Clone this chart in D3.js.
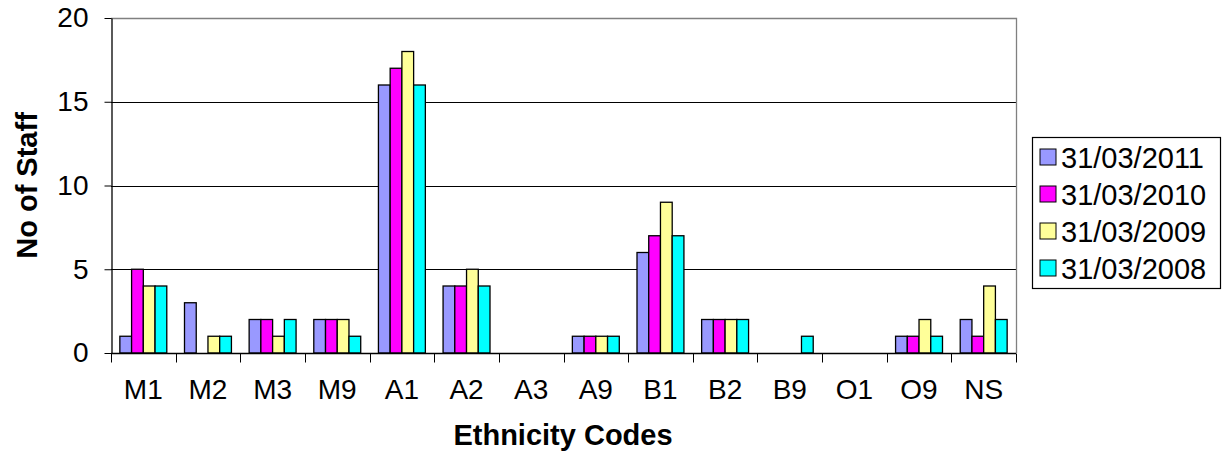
<!DOCTYPE html>
<html>
<head>
<meta charset="utf-8">
<script src="https://cdn.jsdelivr.net/npm/d3@7"></script>
<style>
  html, body { margin: 0; padding: 0; background: #fff; }
  svg { display: block; font-family: "Liberation Sans", Arial, sans-serif; }
</style>
</head>
<body>
<svg id="chart" width="1226" height="464"></svg>
<script>
// Staff counts by ethnicity code at four year-end snapshots
const categories = ["M1", "M2", "M3", "M9", "A1", "A2", "A3", "A9", "B1", "B2", "B9", "O1", "O9", "NS"];
const seriesNames = ["31/03/2011", "31/03/2010", "31/03/2009", "31/03/2008"];
const staff2011 = [1, 3, 2, 2, 16, 4, 0, 1, 6, 2, 0, 0, 1, 2];
const staff2010 = [5, 0, 2, 2, 17, 4, 0, 1, 7, 2, 0, 0, 1, 1];
const staff2009 = [4, 1, 1, 2, 18, 5, 0, 1, 9, 2, 0, 0, 2, 4];
const staff2008 = [4, 1, 2, 1, 16, 4, 0, 1, 7, 2, 1, 0, 1, 2];
const yTicks = [0, 5, 10, 15, 20];
const seriesColors = ["#9999FF", "#FF00FF", "#FFFF99", "#00FFFF"];

const seriesValues = [staff2011, staff2010, staff2009, staff2008];

const svg = d3.select("#chart");
const plot = { left: 111, right: 1016, top: 18, bottom: 353 };

const x0 = d3.scaleBand().domain(categories).range([plot.left, plot.right]).padding(0);
const x1 = d3.scaleBand().domain(seriesNames)
  .range([x0.bandwidth() * 0.137, x0.bandwidth() * 0.863]).padding(0);
const y = d3.scaleLinear().domain([0, 20]).range([plot.bottom, plot.top]);

// gridlines
svg.append("g")
  .selectAll("line")
  .data(yTicks.filter(t => t > 0 && t < 20))
  .join("line")
  .attr("x1", plot.left).attr("x2", plot.right)
  .attr("y1", d => Math.round(y(d)) + 0.5).attr("y2", d => Math.round(y(d)) + 0.5)
  .attr("stroke", "#000").attr("stroke-width", 1);

// plot frame (top and right)
svg.append("path")
  .attr("d", `M${plot.left},${plot.top + 0.5}H${plot.right + 0.5}V${plot.bottom}`)
  .attr("fill", "none").attr("stroke", "#808080").attr("stroke-width", 1.3);

// bars
const groups = svg.append("g")
  .selectAll("g")
  .data(categories)
  .join("g")
  .attr("transform", d => `translate(${x0(d)},0)`);

groups.selectAll("rect")
  .data((cat, i) => seriesNames.map((s, k) => ({ s, v: seriesValues[k][i], k })).filter(d => d.v > 0))
  .join("rect")
  .attr("x", d => x1(d.s))
  .attr("width", x1.bandwidth())
  .attr("y", d => y(d.v))
  .attr("height", d => y(0) - y(d.v))
  .attr("fill", d => seriesColors[d.k])
  .attr("stroke", "#000")
  .attr("stroke-width", 1.3);

// y axis
const yAxis = svg.append("g")
  .attr("transform", `translate(${plot.left + 0.5},0)`)
  .call(d3.axisLeft(y).tickValues(yTicks).tickSize(7).tickPadding(16).tickSizeOuter(0));
yAxis.select(".domain").attr("stroke", "#000").attr("stroke-width", 1.3);
yAxis.selectAll(".tick line").attr("stroke", "#000");
yAxis.selectAll(".tick text")
  .attr("font-family", "Liberation Sans, Arial, sans-serif")
  .attr("font-size", 28).attr("fill", "#000");

// x axis with tick marks between categories
const xAxisG = svg.append("g").attr("transform", `translate(0,${plot.bottom + 0.5})`);
xAxisG.append("line")
  .attr("x1", plot.left).attr("x2", plot.right)
  .attr("stroke", "#000").attr("stroke-width", 1.3);
const boundaries = categories.map(c => x0(c)).concat([plot.right]);
xAxisG.selectAll("line.sep")
  .data(boundaries)
  .join("line")
  .attr("class", "sep")
  .attr("x1", d => Math.round(d) + 0.5).attr("x2", d => Math.round(d) + 0.5)
  .attr("y1", 0).attr("y2", 9)
  .attr("stroke", "#000");
xAxisG.selectAll("text")
  .data(categories)
  .join("text")
  .attr("x", d => x0(d) + x0.bandwidth() / 2)
  .attr("y", 45)
  .attr("text-anchor", "middle")
  .attr("font-size", 28)
  .attr("fill", "#000")
  .text(d => d);

// axis titles
svg.append("text")
  .attr("x", 563).attr("y", 445)
  .attr("text-anchor", "middle")
  .attr("font-size", 29).attr("font-weight", "bold")
  .text("Ethnicity Codes");

svg.append("text")
  .attr("transform", `translate(37,${(plot.top + plot.bottom) / 2}) rotate(-90)`)
  .attr("text-anchor", "middle")
  .attr("font-size", 29).attr("font-weight", "bold")
  .text("No of Staff");

// legend
const legend = svg.append("g").attr("transform", "translate(1032,137)");
legend.append("rect")
  .attr("x", 0.5).attr("y", 0.5).attr("width", 188).attr("height", 151)
  .attr("fill", "#fff").attr("stroke", "#000").attr("stroke-width", 1.2);
const items = legend.selectAll("g.item")
  .data(seriesNames)
  .join("g")
  .attr("class", "item")
  .attr("transform", (d, i) => `translate(0,${20 + i * 37})`);
items.append("rect")
  .attr("x", 8).attr("y", -8).attr("width", 16).attr("height", 16)
  .attr("fill", (d, i) => seriesColors[i])
  .attr("stroke", "#000").attr("stroke-width", 1);
items.append("text")
  .attr("x", 29).attr("y", 10.5)
  .attr("font-size", 29).attr("fill", "#000")
  .text(d => d);
</script>
</body>
</html>
